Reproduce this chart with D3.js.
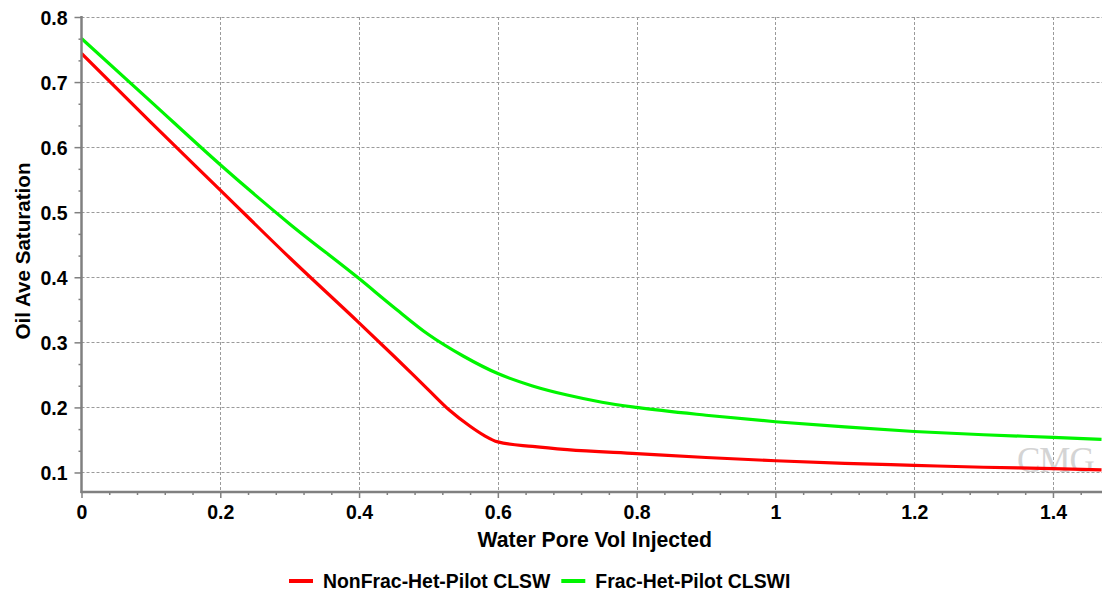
<!DOCTYPE html>
<html>
<head>
<meta charset="utf-8">
<script src="https://cdn.jsdelivr.net/npm/d3@7"></script>
<style>
  body { margin: 0; background: #fff; }
  svg { display: block; font-family: "Liberation Sans", Arial, sans-serif; font-weight: bold; }
</style>
</head>
<body>
<div id="chart"></div>
<script>
// series values
var xRed = [0, 0.1, 0.2, 0.3, 0.4, 0.45, 0.5, 0.53, 0.56, 0.58, 0.6, 0.65, 0.7, 0.8, 0.9, 1.0, 1.1, 1.2, 1.3, 1.4, 1.47]
var red = [0.744, 0.638, 0.534, 0.430, 0.330, 0.279, 0.227, 0.196, 0.171, 0.157, 0.147, 0.140, 0.135, 0.129, 0.123, 0.118, 0.114, 0.111, 0.108, 0.106, 0.104]

var xGreen = [0, 0.1, 0.2, 0.3, 0.4, 0.45, 0.5, 0.55, 0.6, 0.65, 0.7, 0.75, 0.8, 0.9, 1.0, 1.1, 1.2, 1.3, 1.4, 1.47]
var green = [0.767, 0.670, 0.573, 0.482, 0.398, 0.354, 0.312, 0.279, 0.252, 0.233, 0.219, 0.208, 0.200, 0.188, 0.178, 0.170, 0.163, 0.158, 0.154, 0.151]

var seriesNames = ['NonFrac-Het-Pilot CLSW', 'Frac-Het-Pilot CLSWI']
var xTicks = [0, 0.2, 0.4, 0.6, 0.8, 1, 1.2, 1.4]
var yTicks = [0.1, 0.2, 0.3, 0.4, 0.5, 0.6, 0.7, 0.8]
var xTitle = 'Water Pore Vol Injected'
var yTitle = 'Oil Ave Saturation'

var W = 1102, H = 592
var m = {left: 81.5, top: 17, bottom: 100}
var bottomY = 492

var svg = d3.select('#chart').append('svg').attr('width', W).attr('height', H)

var x = d3.scaleLinear().domain([0, 1.475]).range([m.left, 1105])
var y = d3.scaleLinear().domain([0.07, 0.8]).range([bottomY, m.top])

// minor tick values
var xMinor = d3.range(0, 1.48, 0.04).filter(function(d){ return Math.abs(d / 0.2 - Math.round(d / 0.2)) > 1e-6 })
var yMinor = d3.range(0.1 - 0.1/3, 0.8, 0.1/3).filter(function(d){ return Math.abs(d * 10 - Math.round(d * 10)) > 1e-6 && d > 0.07 })

// grid
var grid = svg.append('g').attr('stroke', '#9a9a9a').attr('stroke-width', 1).attr('stroke-dasharray', '3,2')
grid.selectAll('.gx').data(xTicks.slice(1)).enter().append('line')
  .attr('x1', function(d){ return Math.round(x(d)) + 0.5 }).attr('x2', function(d){ return Math.round(x(d)) + 0.5 })
  .attr('y1', m.top).attr('y2', bottomY)
grid.selectAll('.gy').data(yTicks).enter().append('line')
  .attr('y1', function(d){ return Math.round(y(d)) + 0.5 }).attr('y2', function(d){ return Math.round(y(d)) + 0.5 })
  .attr('x1', m.left).attr('x2', W)

// watermark
svg.append('text').attr('x', 1017).attr('y', 472)
  .text('CMG')
  .style('font-family', '"Liberation Serif", serif').style('font-weight', 'normal')
  .style('font-size', '35px').attr('fill', '#d4d4d4').attr('letter-spacing', -1)

// lines
svg.append('clipPath').attr('id', 'clip').append('rect')
  .attr('x', m.left).attr('y', 0).attr('width', W - m.left).attr('height', bottomY)

var line = d3.line().x(function(d){ return x(d[0]) }).y(function(d){ return y(d[1]) }).curve(d3.curveMonotoneX)

var lines = svg.append('g').attr('clip-path', 'url(#clip)')
lines.append('path').attr('d', line(d3.zip(xGreen, green)))
  .attr('fill', 'none').attr('stroke', '#00f500').attr('stroke-width', 3.2)
lines.append('path').attr('d', line(d3.zip(xRed, red)))
  .attr('fill', 'none').attr('stroke', '#ff0000').attr('stroke-width', 3.2)

// axes
var xAxis = svg.append('g').attr('transform', 'translate(0,' + bottomY + ')')
  .call(d3.axisBottom(x).tickValues(xTicks).tickSize(6).tickSizeOuter(0).tickPadding(7).tickFormat(function(d){ return String(d) }))
var xAxisMinor = svg.append('g').attr('transform', 'translate(0,' + bottomY + ')')
  .call(d3.axisBottom(x).tickValues(xMinor).tickSize(3).tickSizeOuter(0).tickFormat(''))

var yAxis = svg.append('g').attr('transform', 'translate(' + m.left + ',0)')
  .call(d3.axisLeft(y).tickValues(yTicks).tickSize(7).tickSizeOuter(0).tickPadding(7).tickFormat(function(d){ return String(d) }))
var yAxisMinor = svg.append('g').attr('transform', 'translate(' + m.left + ',0)')
  .call(d3.axisLeft(y).tickValues(yMinor).tickSize(3).tickSizeOuter(0).tickFormat(''))

svg.selectAll('.domain').attr('stroke', '#808080').attr('stroke-width', 2.5)
svg.selectAll('.tick line').attr('stroke', '#808080').attr('stroke-width', 1.5)
svg.selectAll('.tick text').attr('fill', '#000').style('font-size', '19.5px').style('font-family', '"Liberation Sans", Arial, sans-serif').style('font-weight', 'bold')
yAxis.selectAll('.tick text').attr('dy', '0.36em')
xAxisMinor.select('.domain').remove()
yAxisMinor.select('.domain').remove()
yAxis.select('.domain').attr('d', 'M0,' + (m.top - 1) + 'V' + (bottomY + 1))
xAxis.select('.domain').attr('d', 'M' + (m.left - 1) + ',0H' + W)

// titles
svg.append('text').attr('x', (m.left + W) / 2 + 3).attr('y', 546.5)
  .attr('text-anchor', 'middle').style('font-size', '21.2px').text(xTitle)
svg.append('text').attr('transform', 'translate(30,' + 251 + ') rotate(-90)')
  .attr('text-anchor', 'middle').style('font-size', '20.6px').text(yTitle)

// legend
var legendColors = ['#ff0000', '#00f500']
var lx = 289
seriesNames.forEach(function(name, i){
  var g = svg.append('g').attr('transform', 'translate(' + lx + ',0)')
  g.append('line').attr('x1', 0).attr('x2', 24).attr('y1', 581).attr('y2', 581)
    .attr('stroke', legendColors[i]).attr('stroke-width', 4)
  var t = g.append('text').attr('x', 34).attr('y', 587.5).style('font-size', '19.4px').text(name)
  lx += 34 + t.node().getComputedTextLength() + 11
})
</script>
</body>
</html>
